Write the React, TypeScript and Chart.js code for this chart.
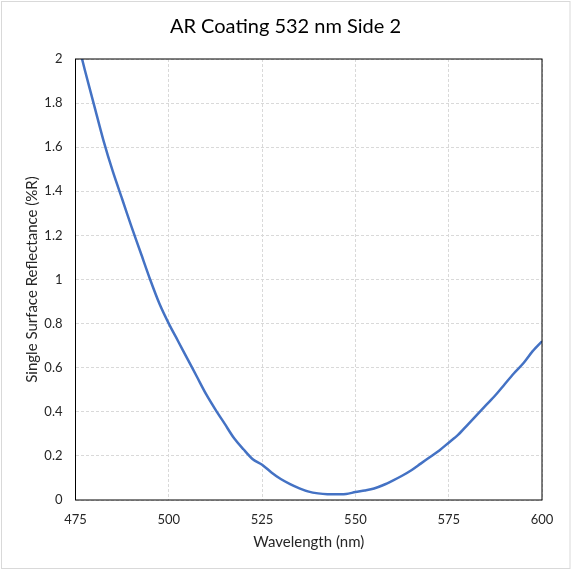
import { useEffect, useRef } from "react"
import { Chart, registerables } from "chart.js"

Chart.register(...registerables)

const wavelengths = [
  475, 477.5, 480, 482.5, 485, 487.5, 490, 492.5, 495, 497.5, 500, 502.5, 505, 507.5, 510, 512.5,
  515, 517.5, 520, 522.5, 525, 527.5, 530, 532.5, 535, 537.5, 540, 542.5, 545, 547.5, 550, 552.5,
  555, 557.5, 560, 562.5, 565, 567.5, 570, 572.5, 575, 577.5, 580, 582.5, 585, 587.5, 590, 592.5,
  595, 597.5, 600,
]
const reflectance = [
  2.12, 1.95, 1.79, 1.63, 1.49, 1.365, 1.24, 1.12, 1.0, 0.89, 0.8, 0.72, 0.64, 0.56, 0.48, 0.41,
  0.345, 0.28, 0.23, 0.185, 0.16, 0.125, 0.095, 0.072, 0.053, 0.038, 0.03, 0.026, 0.026, 0.027,
  0.036, 0.043, 0.052, 0.068, 0.088, 0.11, 0.135, 0.165, 0.195, 0.225, 0.26, 0.295, 0.34, 0.385,
  0.43, 0.475, 0.525, 0.575, 0.62, 0.675, 0.72,
]
const xTicks = [475, 500, 525, 550, 575, 600]
const yTicks = [0, 0.2, 0.4, 0.6, 0.8, 1, 1.2, 1.4, 1.6, 1.8, 2]

const FONT = "Lato, 'Open Sans', sans-serif"
const TEXT = "#262626"

export default function App() {
  const chartRef = useRef<HTMLCanvasElement>(null)
  const chartInstance = useRef<Chart | null>(null)

  useEffect(() => {
    if (!chartRef.current) return
    if (chartInstance.current) chartInstance.current.destroy()
    const ctx = chartRef.current.getContext("2d")
    if (!ctx) return

    const frame = {
      id: "frame",
      beforeDraw(chart: any) {
        const c = chart.ctx
        c.save()
        c.fillStyle = "#ffffff"
        c.fillRect(0, 0, chart.width, chart.height)
        c.strokeStyle = "#d9d9d9"
        c.lineWidth = 1
        c.strokeRect(1.5, 1.5, chart.width - 2.5, chart.height - 4)
        c.fillStyle = "#000000"
        c.font = `20px ${FONT}`
        c.textAlign = "center"
        c.textBaseline = "middle"
        c.fillText("AR Coating 532 nm Side 2", chart.width / 2, 27)
        c.restore()
      },
      afterDraw(chart: any) {
        const { left, right, top, bottom } = chart.chartArea
        const c = chart.ctx
        c.save()
        c.strokeStyle = "#000000"
        c.lineWidth = 1
        c.strokeRect(left, top, right - left, bottom - top)
        c.restore()
      },
    }

    chartInstance.current = new Chart(ctx, {
      type: "line",
      data: {
        datasets: [
          {
            label: "Side 2",
            data: wavelengths.map((w, i) => ({ x: w, y: reflectance[i] })),
            borderColor: "#4472C4",
            borderWidth: 2.5,
            pointRadius: 0,
            tension: 0.3,
            fill: false,
          },
        ],
      },
      options: {
        animation: false,
        responsive: false,
        layout: { padding: { left: 0, top: 59, right: 29, bottom: 0 } },
        plugins: { legend: { display: false }, tooltip: { enabled: false } },
        scales: {
          x: {
            type: "linear",
            min: 475,
            max: 600,
            afterFit: (s: any) => {
              s.height = 71
            },
            afterBuildTicks: (s: any) => {
              s.ticks = xTicks.map((v) => ({ value: v }))
            },
            border: { display: false, dash: [3, 2] },
            grid: { color: "#d9d9d9", drawTicks: false },
            ticks: { color: TEXT, padding: 12, font: { family: FONT, size: 13 } },
            title: {
              display: true,
              text: "Wavelength (nm)",
              color: TEXT,
              font: { family: FONT, size: 15 },
              padding: { top: 0, bottom: 20 },
            },
          },
          y: {
            min: 0,
            max: 2,
            afterFit: (s: any) => {
              s.width = 75.5
            },
            afterBuildTicks: (s: any) => {
              s.ticks = yTicks.map((v) => ({ value: v }))
            },
            border: { display: false, dash: [3, 2] },
            grid: { color: "#d9d9d9", drawTicks: false },
            ticks: {
              color: TEXT,
              padding: 13,
              font: { family: FONT, size: 13 },
              callback: (v: any) => String(Math.round(Number(v) * 10) / 10),
            },
            title: {
              display: true,
              text: "Single Surface Reflectance (%R)",
              color: TEXT,
              font: { family: FONT, size: 15 },
              padding: { top: 23, bottom: 0 },
            },
          },
        },
      },
      plugins: [frame],
    })

    return () => {
      if (chartInstance.current) {
        chartInstance.current.destroy()
        chartInstance.current = null
      }
    }
  }, [])

  return (
    <div style={{ position: "absolute", left: 0, top: 0, width: 571, height: 571 }}>
      <canvas ref={chartRef} width={571} height={571} style={{ width: 571, height: 571 }} />
    </div>
  )
}
